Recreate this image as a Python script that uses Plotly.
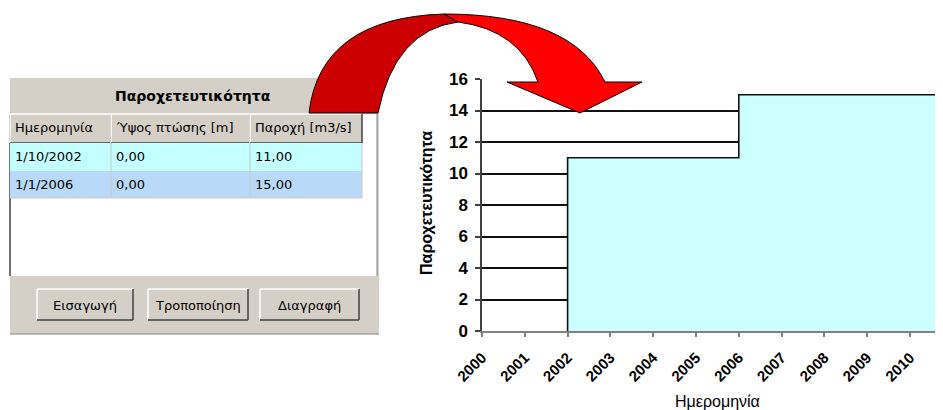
import plotly.graph_objects as go

# the page body has an 8px margin, so the figure starts at (8, 8) in the window
OFF = 8
WIN_W, WIN_H = 943, 410
W, H = WIN_W - OFF, WIN_H - OFF

# table contents (dialog on the left)
table_title = "Παροχετευτικότητα"
col_headers = ["Ημερομηνία", "Ύψος πτώσης [m]", "Παροχή [m3/s]"]
dates = ["1/10/2002", "1/1/2006"]
heads = [0.0, 0.0]
flows = [11.0, 15.0]
buttons = ["Εισαγωγή", "Τροποποίηση", "Διαγραφή"]

# chart axes
x_ticks = [2000, 2001, 2002, 2003, 2004, 2005, 2006, 2007, 2008, 2009, 2010]
y_ticks = [0, 2, 4, 6, 8, 10, 12, 14, 16]
x_end = 2011
y_title = "Παροχετευτικότητα"
x_title = "Ημερομηνία"

GRAY = "#D4D0C8"
DARK = "#404040"
MID = "#808080"
FONT_UI = "DejaVu Sans"
FONT_CH = "Liberation Sans"


# window pixels -> paper fractions
def px(x):
    return (x - OFF) / W


def py(y):
    return 1 - (y - OFF) / H


def num(v):
    return f"{v:.2f}".replace(".", ",")


def rect(x0, y0, x1, y1, fill, line=None, width=1):
    return dict(type="rect", xref="paper", yref="paper",
                x0=px(x0), x1=px(x1), y0=py(y1), y1=py(y0),
                fillcolor=fill, line=dict(color=line or fill, width=width if line else 0),
                layer="above")


def seg(x0, y0, x1, y1, color, width=1):
    return dict(type="line", xref="paper", yref="paper",
                x0=px(x0), x1=px(x1), y0=py(y0), y1=py(y1),
                line=dict(color=color, width=width), layer="above")


def path(cmds, fill):
    out = []
    for c in cmds:
        if isinstance(c, str):
            out.append(c)
        else:
            out.append(f"{px(c[0]):.5f},{py(c[1]):.5f}")
    return dict(type="path", xref="paper", yref="paper", path=" ".join(out),
                fillcolor=fill, line=dict(color="black", width=1), layer="above")


def label(x, y, text, size=13, bold=False, anchor="left", font=FONT_UI, angle=0):
    t = f"<b>{text}</b>" if bold else text
    return dict(xref="paper", yref="paper", x=px(x), y=py(y), text=t,
                showarrow=False, xanchor=anchor, yanchor="middle", textangle=angle,
                font=dict(family=font, size=size, color="black"))


def button(x0, y0, x1, y1):
    return [
        rect(x0, y0, x1, y1, GRAY),
        seg(x0, y0, x1, y0, "white", 1.5),
        seg(x0, y0, x0, y1, "white", 1.5),
        seg(x0, y1, x1, y1, DARK, 1.5),
        seg(x1, y0, x1, y1, DARK, 1.5),
    ]


# step series built from the table
years = [int(d.split("/")[-1]) for d in dates]
step_x = [years[0]] + years + [x_end]
step_y = [0] + flows + [flows[-1]]

fig = go.Figure()
fig.add_trace(go.Scatter(
    x=step_x, y=step_y, mode="lines", line_shape="hv",
    line=dict(color="#111111", width=1.6),
    fill="tozeroy", fillcolor="#CCFFFF", hoverinfo="skip", showlegend=False,
))

shapes = []
annotations = []

# dialog frame
shapes.append(rect(10, 78, 379, 334, GRAY))
shapes.append(rect(10, 114, 377, 276, "white"))
shapes.append(seg(10, 114, 10, 276, DARK, 1.5))
shapes.append(seg(377, 114, 377, 276, MID, 1))
shapes.append(seg(10, 334, 379, 334, MID, 1))
annotations.append(label(193, 96, table_title, size=14, bold=True, anchor="center"))

col_x = [10, 111, 250, 362]
for i, h in enumerate(col_headers):
    shapes += button(col_x[i], 114, col_x[i + 1], 143)
    annotations.append(label(col_x[i] + 3, 128, h))

row_fill = ["#C4FFFF", "#B9D9F9"]
row_y = [143, 171, 198]
for r in range(len(dates)):
    shapes.append(rect(10, row_y[r], 362, row_y[r + 1], row_fill[r]))
    for cx in col_x[1:]:
        shapes.append(seg(cx, row_y[r], cx, row_y[r + 1], "#C8C8C8", 1))
    mid = (row_y[r] + row_y[r + 1]) / 2
    annotations.append(label(col_x[0] + 3, mid, dates[r]))
    annotations.append(label(col_x[1] + 3, mid, num(heads[r])))
    annotations.append(label(col_x[2] + 3, mid, num(flows[r])))
shapes.append(seg(10, 198, 362, 198, "#C8C8C8", 1))

btn_x = [(37, 133), (148, 248), (260, 359)]
for (bx0, bx1), b in zip(btn_x, buttons):
    shapes += button(bx0, 289, bx1, 320)
    annotations.append(label((bx0 + bx1) / 2, 305, b, anchor="center"))

# curved arrow: dark back part, bright front part with head
shapes.append(path(["M", (309, 113), "Q", (320, 18), (444, 14), "L", (458, 22),
                    "Q", (395, 30), (378, 113), "Z"], "#CC0000"))
shapes.append(path(["M", (444, 14), "Q", (572, 14), (605, 82), "L", (642, 82),
                    "L", (580, 113), "L", (507, 82), "L", (538, 82),
                    "Q", (520, 30), (458, 22), "Z"], "#FF0000"))

# axis titles
annotations.append(label(427, 203, y_title, size=16, bold=True, anchor="center",
                         font=FONT_CH, angle=-90))
annotations.append(label(717, 401, x_title, size=16, anchor="center", font=FONT_CH))

x0_px, x10_px = 482, 910
per_year = (x10_px - x0_px) / (x_ticks[-1] - x_ticks[0])
x_max = x_ticks[0] + (WIN_W - x0_px) / per_year

fig.update_layout(
    template="none",
    width=W, height=H,
    margin=dict(l=0, r=0, t=0, b=0, pad=0),
    paper_bgcolor="white", plot_bgcolor="white",
    shapes=shapes, annotations=annotations,
    xaxis=dict(
        domain=[px(x0_px), 1], range=[x_ticks[0], x_max], automargin=False,
        tickvals=x_ticks, ticktext=[str(t) for t in x_ticks], tickangle=-45,
        ticks="outside", ticklen=4, tickcolor=MID, tickwidth=1.5,
        ticklabelstandoff=6,
        showgrid=False, zeroline=False, showline=True, linecolor=MID, linewidth=2,
        tickfont=dict(family=FONT_CH, size=15, color="black", weight="bold"),
    ),
    yaxis=dict(
        domain=[py(331), py(79)], range=[0, 16], tickvals=y_ticks, automargin=False,
        ticks="outside", ticklen=5, tickcolor=DARK, tickwidth=1.5,
        ticklabelstandoff=4,
        showgrid=True, gridcolor="#111111", gridwidth=1.5,
        zeroline=False, showline=True, linecolor=DARK, linewidth=1.5,
        tickfont=dict(family=FONT_CH, size=17, color="black", weight="bold"),
    ),
)

fig.write_html("out.html")
